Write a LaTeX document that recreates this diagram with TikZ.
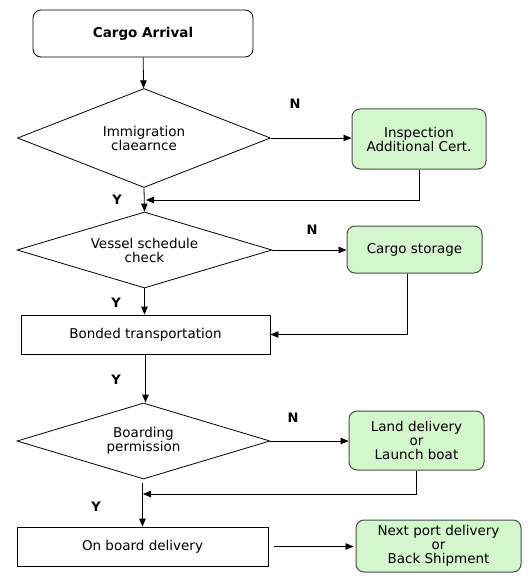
\documentclass[tikz,border=0pt]{standalone}
\usepackage{fontspec}
\setmainfont{DejaVu Sans}
\usetikzlibrary{shapes.geometric,arrows.meta}
\definecolor{boxgreen}{RGB}{212,246,204}
\definecolor{boxline}{RGB}{70,80,70}
\tikzstyle{stepbox}=[rectangle,draw=black,line width=0.8bp,inner sep=0pt,align=center]
\tikzstyle{startbox}=[stepbox,rounded corners=8bp]
\tikzstyle{altbox}=[stepbox,rounded corners=8bp,fill=boxgreen,draw=boxline,line width=1bp]
\tikzstyle{ask}=[diamond,draw=black,line width=0.8bp,inner sep=0pt,align=center]
\tikzstyle{flow}=[line width=0.8bp,-{Triangle[length=8bp,width=6.5bp]}]
\tikzstyle{yn}=[font=\bfseries\fontsize{13bp}{14bp}\selectfont]

\begin{document}
\begin{tikzpicture}[x=1bp,y=-1bp,font=\fontsize{13.5bp}{14bp}\selectfont]
	\useasboundingbox (0,0) rectangle (531,577);
	\node[startbox,minimum width=220bp,minimum height=47bp,font=\bfseries\fontsize{13.5bp}{14bp}\selectfont] (arrival) at (143,33.5) {Cargo Arrival};
	\node[ask,aspect=2.56,minimum width=253bp,minimum height=99bp] (immig) at (144,138) {Immigration\\claearnce};
	\node[altbox,minimum width=134bp,minimum height=60bp] (inspect) at (419,139) {Inspection\\Additional Cert.};
	\node[ask,aspect=3.36,minimum width=255bp,minimum height=76bp] (vessel) at (144.5,250) {Vessel schedule\\check};
	\node[altbox,minimum width=135bp,minimum height=47bp] (storage) at (414.5,249.5) {Cargo storage};
	\node[stepbox,minimum width=249bp,minimum height=39bp] (bonded) at (145.5,334.5) {Bonded transportation};
	\node[ask,aspect=3.33,minimum width=253bp,minimum height=76bp] (boarding) at (143.5,441) {Boarding\\permission};
	\node[altbox,minimum width=135bp,minimum height=59bp] (land) at (416.5,440.5) {Land delivery\\or\\Launch boat};
	\node[stepbox,minimum width=251bp,minimum height=39bp] (onboard) at (142.5,546.5) {On board delivery};
	\node[altbox,minimum width=165bp,minimum height=52bp] (next) at (438.5,546) {Next port delivery\\or\\Back Shipment};
	\coordinate (join1) at (146,200);
	\coordinate (join3) at (143,494);
	\draw[flow] (arrival) -- (immig);
	\draw[flow] (immig.east) -- (immig.east -| inspect.west);
	\draw[flow] (immig.south) -- (vessel.north);
	\draw[flow] (inspect.south) |- (join1);
	\draw[flow] (vessel.east) -- (vessel.east -| storage.west);
	\draw[flow] (vessel.south) -- (vessel.south |- bonded.north);
	\draw[flow] ([xshift=-7bp]storage.south) |- (bonded.east);
	\draw[flow] (bonded.south) -- (bonded.south |- boarding.north);
	\draw[flow] (boarding.east) -- (boarding.east -| land.west);
	\draw[flow] (land.south) |- (join3);
	\draw[flow,shorten <=4bp] (boarding.south -| onboard.north) -- (onboard.north);
	\draw[flow,shorten <=6bp,shorten >=2bp] (onboard.east) -- (onboard.east -| next.west);
	\node[yn] (n1) at (295,104) {N};
	\node[yn] (y1) at (117,200) {Y};
	\node[yn] (n2) at (312,230) {N};
	\node[yn] (y2) at (116,303) {Y};
	\node[yn] (y3) at (116,380) {Y};
	\node[yn] (n3) at (293,418) {N};
	\node[yn] (y4) at (96,507) {Y};
\end{tikzpicture}
\end{document}
